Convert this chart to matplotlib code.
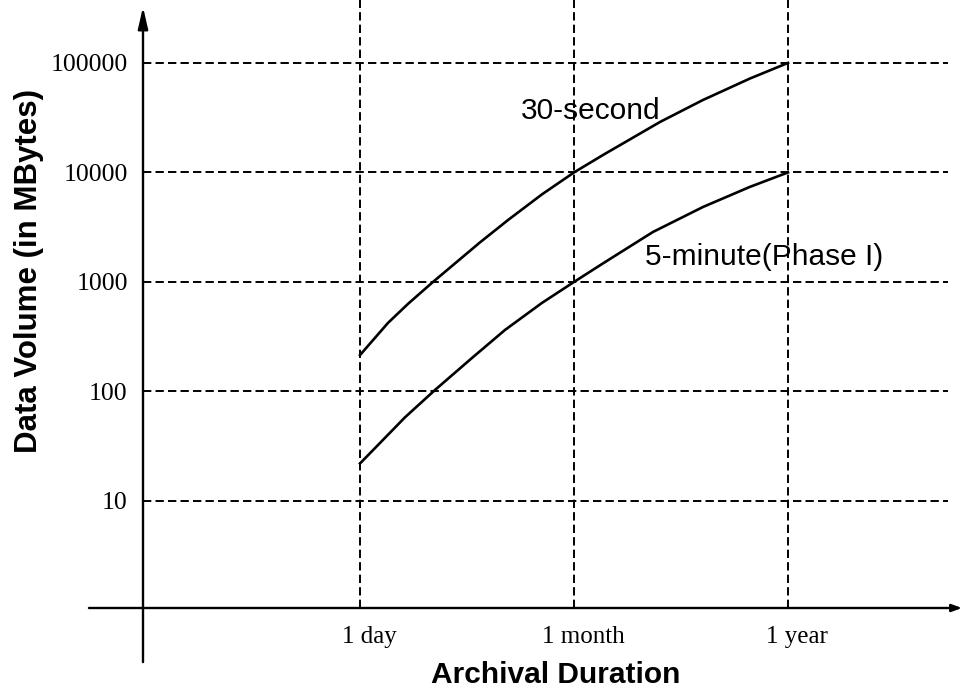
"""Data volume vs archival duration"""

import matplotlib
matplotlib.use("Agg")
import matplotlib.pyplot as plt
from matplotlib.transforms import ScaledTranslation

# x positions: 0 = 1 day, 1 = 1 month, 2 = 1 year
duration_ticks = [0, 1, 2]
duration_labels = ["1 day", "1 month", "1 year"]

volume_ticks = [10, 100, 1000, 10000, 100000]
volume_labels = ["10", "100", "1000", "10000", "100000"]

# points (MBytes)
x_30s = [0, 0.131, 0.224, 0.341, 0.561, 0.692, 0.850, 1.0, 1.136, 1.402, 1.603, 1.822, 2.0]
vol_30s = [215, 423, 630, 1000, 2300, 3680, 6300, 10000, 14450, 28900, 45900, 72000, 100000]

x_5min = [0, 0.210, 0.350, 0.523, 0.678, 0.850, 1.0, 1.136, 1.369, 1.603, 1.822, 2.0]
vol_5min = [22, 58, 103, 202, 365, 643, 1000, 1480, 2860, 4840, 7380, 10000]

plt.rcParams["lines.scale_dashes"] = False

W, H = 962, 694
fig = plt.figure(figsize=(W / 100, H / 100), dpi=100)

# axes box in pixels: left 143, right 962, bottom 608, top 7
ax = fig.add_axes([143 / W, (H - 608) / H, (962 - 143) / W, (608 - 7) / H])
ax.set_yscale("log")
ax.set_xlim(-1.014, 2.813)
ax.set_ylim(1.054, 324000)
for s in ax.spines.values():
	s.set_visible(False)

#dashed grid
dash = (0, (6.0, 3.0))
for v in volume_ticks:
	ax.axhline(v, xmin=0, xmax=0.983, color="black", lw=1.4, linestyle=dash)
for d in duration_ticks:
	ax.axvline(d, ymin=0, ymax=1.012, color="black", lw=1.4, linestyle=dash, clip_on=False)

#curves
ax.plot(x_30s, vol_30s, color="black", lw=1.9, solid_joinstyle="round")
ax.plot(x_5min, vol_5min, color="black", lw=1.9, solid_joinstyle="round")

ax.text(0.752, 30800, "30-second", family="Liberation Sans", fontsize=21.5, va="baseline", ha="left")
ax.text(1.332, 1430, "5-minute(Phase I)", family="Liberation Sans", fontsize=21.5, va="baseline", ha="left")

#ticks
ax.set_xticks(duration_ticks)
ax.set_xticklabels(duration_labels, family="Liberation Serif", fontsize=18)
ax.set_yticks(volume_ticks)
ax.set_yticklabels(volume_labels, family="Liberation Serif", fontsize=18.5)
ax.yaxis.set_minor_locator(matplotlib.ticker.NullLocator())
ax.tick_params(axis="both", length=0)
ax.tick_params(axis="y", pad=11)
ax.tick_params(axis="x", pad=13)
shift = ScaledTranslation(9 / 100, 0, fig.dpi_scale_trans)
for lab in ax.get_xticklabels():
	lab.set_transform(lab.get_transform() + shift)

#axis lines with arrows
ax.annotate("", xy=(0, 1.0), xytext=(0, -0.09), xycoords="axes fraction",
			arrowprops=dict(arrowstyle="-|>,head_length=1.3,head_width=0.3", lw=1.7, color="black", shrinkA=0, shrinkB=0))
ax.annotate("", xy=(1.0, 0), xytext=(-0.066, 0), xycoords="axes fraction",
			arrowprops=dict(arrowstyle="-|>,head_length=0.6,head_width=0.22", lw=1.7, color="black", shrinkA=0, shrinkB=0))

#axis titles
fig.text(556 / W, 1 - 675 / H, "Archival Duration", family="Liberation Sans", fontweight="bold",
		 fontsize=21.5, ha="center", va="center")
fig.text(29 / W, 1 - 271 / H, "Data Volume (in MBytes)", family="Liberation Sans", fontweight="bold",
		 fontsize=22.5, ha="center", va="center", rotation=90)

fig.savefig("out.png", dpi=100)
